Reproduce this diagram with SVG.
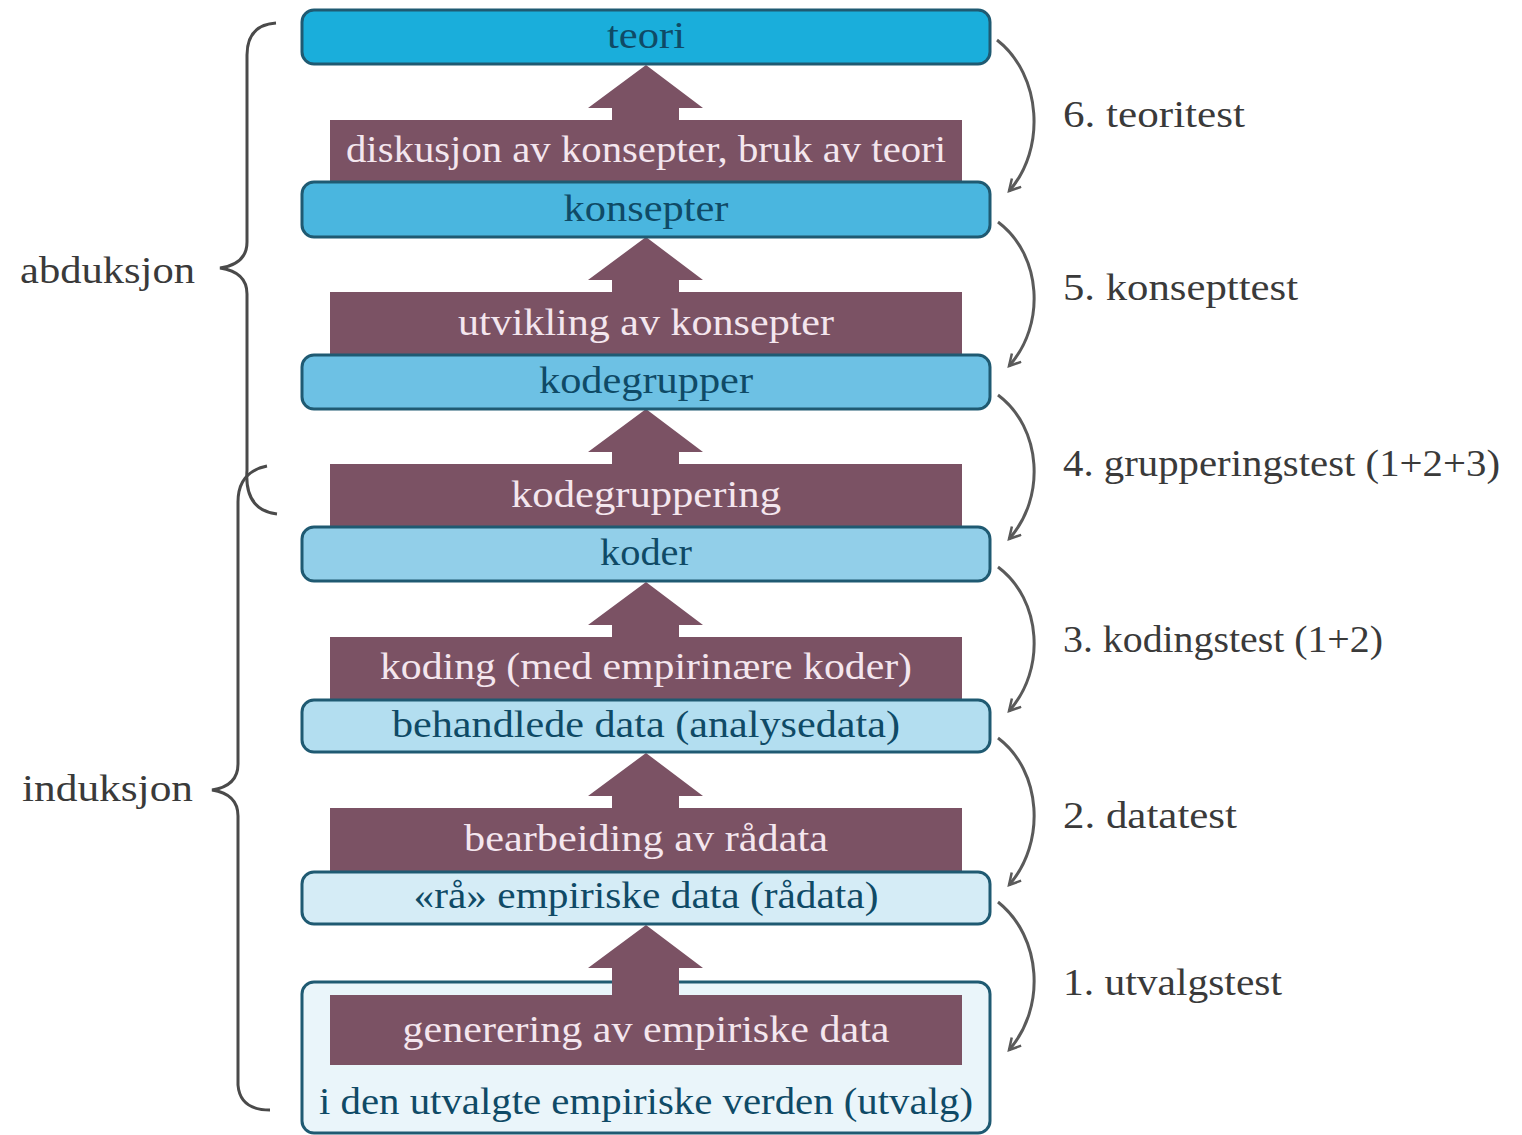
<svg xmlns="http://www.w3.org/2000/svg" width="1522" height="1135" viewBox="0 0 1522 1135">
<defs>
<style>
.box{stroke:#1f5a72;stroke-width:3}
.bar{fill:#7b5264}
.up{fill:#7b5264}
.bt{font-family:"Liberation Serif",serif;font-size:37px;fill:#0f4a66;text-anchor:middle}
.rt{font-family:"Liberation Serif",serif;font-size:37px;fill:#f4e6ee;text-anchor:middle}
.lab{font-family:"Liberation Serif",serif;font-size:37px;fill:#3a3a3a}
.cv{fill:none;stroke:#5a5a5a;stroke-width:3;marker-end:url(#ah)}
.br{fill:none;stroke:#4a4a4a;stroke-width:3}
</style>
<marker id="ah" viewBox="0 0 12 12" refX="10" refY="6" markerWidth="5" markerHeight="5" orient="auto" markerUnits="strokeWidth">
<path d="M1,1 L10,6 L1,11" fill="none" stroke="#5a5a5a" stroke-width="2"/>
</marker>
</defs>
<rect width="1522" height="1135" fill="#ffffff"/>

<!-- maroon process bars -->
<g id="diskusjon"><rect class="bar" x="330" y="120" width="632" height="62"/><text class="rt" x="646" y="162" textLength="600" lengthAdjust="spacingAndGlyphs">diskusjon av konsepter, bruk av teori</text></g>
<g id="utvikling"><rect class="bar" x="330" y="292" width="632" height="64"/><text class="rt" x="646" y="335" textLength="376" lengthAdjust="spacingAndGlyphs">utvikling av konsepter</text></g>
<g id="kodegruppering"><rect class="bar" x="330" y="464" width="632" height="64"/><text class="rt" x="646" y="507" textLength="270" lengthAdjust="spacingAndGlyphs">kodegruppering</text></g>
<g id="koding"><rect class="bar" x="330" y="637" width="632" height="64"/><text class="rt" x="646" y="679" textLength="532" lengthAdjust="spacingAndGlyphs">koding (med empirinære koder)</text></g>
<g id="bearbeiding"><rect class="bar" x="330" y="808" width="632" height="66"/><text class="rt" x="646" y="851" textLength="364" lengthAdjust="spacingAndGlyphs">bearbeiding av rådata</text></g>

<!-- bottom node -->
<g id="utvalg">
<rect class="box" x="302" y="982" width="688" height="151" rx="12" fill="#eaf5fa"/>
<rect class="bar" x="330" y="995" width="632" height="70"/>
<text class="rt" x="646" y="1042" textLength="487" lengthAdjust="spacingAndGlyphs">generering av empiriske data</text>
<text class="bt" x="646" y="1114" textLength="654" lengthAdjust="spacingAndGlyphs">i den utvalgte empiriske verden (utvalg)</text>
</g>

<!-- connectors -->
<g id="connectors">
<path class="up" d="M646,65 L703,108 L679,108 L679,121 L612,121 L612,108 L588,108 Z"/>
<path class="up" d="M646,237 L703,280 L679,280 L679,293 L612,293 L612,280 L588,280 Z"/>
<path class="up" d="M646,409 L703,452 L679,452 L679,465 L612,465 L612,452 L588,452 Z"/>
<path class="up" d="M646,582 L703,625 L679,625 L679,638 L612,638 L612,625 L588,625 Z"/>
<path class="up" d="M646,753 L703,796 L679,796 L679,809 L612,809 L612,796 L588,796 Z"/>
<path class="up" d="M646,925 L703,968 L679,968 L679,996 L612,996 L612,968 L588,968 Z"/>
<path class="cv" d="M997,40 C1042,75 1046,150 1009,191"/>
<path class="cv" d="M998,222 C1042,255 1046,325 1009,366"/>
<path class="cv" d="M998,395 C1042,428 1046,498 1009,539"/>
<path class="cv" d="M998,567 C1042,600 1046,670 1009,711"/>
<path class="cv" d="M998,738 C1042,771 1046,843 1009,885"/>
<path class="cv" d="M998,902 C1042,937 1046,1008 1009,1050"/>
</g>

<!-- blue nodes -->
<g id="teori"><rect class="box" x="302" y="10" width="688" height="54" rx="12" fill="#1aaedb"/><text class="bt" x="646" y="48" textLength="78" lengthAdjust="spacingAndGlyphs">teori</text></g>
<g id="konsepter"><rect class="box" x="302" y="182" width="688" height="55" rx="12" fill="#4ab6df"/><text class="bt" x="646" y="221" textLength="165" lengthAdjust="spacingAndGlyphs">konsepter</text></g>
<g id="kodegrupper"><rect class="box" x="302" y="355" width="688" height="54" rx="12" fill="#6dc1e4"/><text class="bt" x="646" y="393" textLength="214" lengthAdjust="spacingAndGlyphs">kodegrupper</text></g>
<g id="koder"><rect class="box" x="302" y="527" width="688" height="54" rx="12" fill="#92cfe9"/><text class="bt" x="646" y="565" textLength="92" lengthAdjust="spacingAndGlyphs">koder</text></g>
<g id="behandlede"><rect class="box" x="302" y="700" width="688" height="52" rx="12" fill="#b3def0"/><text class="bt" x="646" y="737" textLength="508" lengthAdjust="spacingAndGlyphs">behandlede data (analysedata)</text></g>
<g id="radata"><rect class="box" x="302" y="872" width="688" height="52" rx="12" fill="#d5ecf6"/><text class="bt" x="646" y="908" textLength="465" lengthAdjust="spacingAndGlyphs">«rå» empiriske data (rådata)</text></g>

<!-- test labels -->
<g id="tests">
<text class="lab" x="1063" y="127" textLength="182" lengthAdjust="spacingAndGlyphs">6. teoritest</text>
<text class="lab" x="1063" y="300" textLength="235" lengthAdjust="spacingAndGlyphs">5. konsepttest</text>
<text class="lab" x="1063" y="476" textLength="437" lengthAdjust="spacingAndGlyphs">4. grupperingstest (1+2+3)</text>
<text class="lab" x="1063" y="652" textLength="320" lengthAdjust="spacingAndGlyphs">3. kodingstest (1+2)</text>
<text class="lab" x="1063" y="828" textLength="174" lengthAdjust="spacingAndGlyphs">2. datatest</text>
<text class="lab" x="1063" y="995" textLength="219" lengthAdjust="spacingAndGlyphs">1. utvalgstest</text>
</g>

<!-- braces -->
<g id="abduksjon">
<path class="br" d="M276,23 Q247,25 247,55 L247,242 Q247,264 220,268 Q247,272 247,294 L247,470 Q244,510 277,514"/>
<text class="lab" x="20" y="283" textLength="175" lengthAdjust="spacingAndGlyphs">abduksjon</text>
</g>
<g id="induksjon">
<path class="br" d="M267,466 Q238,472 238,502 L238,764 Q238,786 212,790 Q238,794 238,816 L238,1085 Q240,1110 270,1110"/>
<text class="lab" x="22" y="801" textLength="171" lengthAdjust="spacingAndGlyphs">induksjon</text>
</g>
</svg>
